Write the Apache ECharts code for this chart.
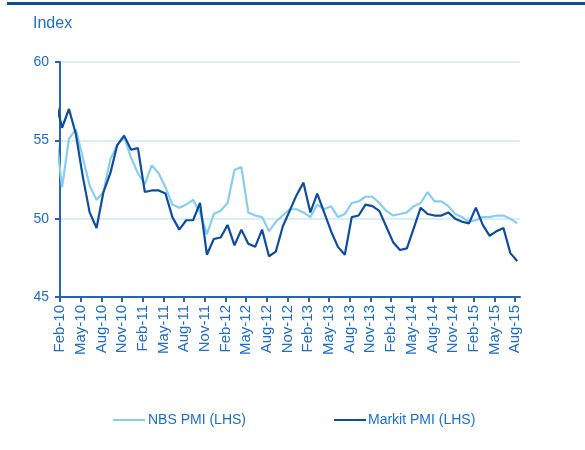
<!DOCTYPE html>
<html>
<head>
<meta charset="utf-8">
<script src="https://cdn.jsdelivr.net/npm/echarts@6/dist/echarts.min.js"></script>
<style>
  html, body { margin: 0; padding: 0; background: #fff; }
  #chart { width: 585px; height: 450px; }
</style>
</head>
<body>
<div id="chart"></div>
<script>
// monthly PMI, Jan-10 .. Aug-15 (Jan-10 sits just left of the axis and gets clipped)
const months = [
  'Jan-10', 'Feb-10', 'Mar-10', 'Apr-10', 'May-10', 'Jun-10', 'Jul-10', 'Aug-10', 'Sep-10', 'Oct-10', 'Nov-10', 'Dec-10',
  'Jan-11', 'Feb-11', 'Mar-11', 'Apr-11', 'May-11', 'Jun-11', 'Jul-11', 'Aug-11', 'Sep-11', 'Oct-11', 'Nov-11', 'Dec-11',
  'Jan-12', 'Feb-12', 'Mar-12', 'Apr-12', 'May-12', 'Jun-12', 'Jul-12', 'Aug-12', 'Sep-12', 'Oct-12', 'Nov-12', 'Dec-12',
  'Jan-13', 'Feb-13', 'Mar-13', 'Apr-13', 'May-13', 'Jun-13', 'Jul-13', 'Aug-13', 'Sep-13', 'Oct-13', 'Nov-13', 'Dec-13',
  'Jan-14', 'Feb-14', 'Mar-14', 'Apr-14', 'May-14', 'Jun-14', 'Jul-14', 'Aug-14', 'Sep-14', 'Oct-14', 'Nov-14', 'Dec-14',
  'Jan-15', 'Feb-15', 'Mar-15', 'Apr-15', 'May-15', 'Jun-15', 'Jul-15', 'Aug-15'
]

const nbsPmi = [
  55.8, 52.0, 55.1, 55.7, 53.9, 52.1, 51.2, 51.7, 53.8, 54.7, 55.2, 53.9,
  52.9, 52.2, 53.4, 52.9, 52.0, 50.9, 50.7, 50.9, 51.2, 50.4, 49.0, 50.3,
  50.5, 51.0, 53.1, 53.3, 50.4, 50.2, 50.1, 49.2, 49.8, 50.2, 50.6, 50.6,
  50.4, 50.1, 50.9, 50.6, 50.8, 50.1, 50.3, 51.0, 51.1, 51.4, 51.4, 51.0,
  50.5, 50.2, 50.3, 50.4, 50.8, 51.0, 51.7, 51.1, 51.1, 50.8, 50.3, 50.1,
  49.8, 49.9, 50.1, 50.1, 50.2, 50.2, 50.0, 49.7
]

const markitPmi = [
  57.6, 55.8, 57.0, 55.4, 52.7, 50.4, 49.4, 51.7, 52.9, 54.7, 55.3, 54.4,
  54.5, 51.7, 51.8, 51.8, 51.6, 50.1, 49.3, 49.9, 49.9, 51.0, 47.7, 48.7,
  48.8, 49.6, 48.3, 49.3, 48.4, 48.2, 49.3, 47.6, 47.9, 49.5, 50.5, 51.5,
  52.3, 50.4, 51.6, 50.4, 49.2, 48.2, 47.7, 50.1, 50.2, 50.9, 50.8, 50.5,
  49.5, 48.5, 48.0, 48.1, 49.4, 50.7, 50.3, 50.2, 50.2, 50.4, 50.0, 49.8,
  49.7, 50.7, 49.6, 48.9, 49.2, 49.4, 47.8, 47.3
]

// x labels every 3rd month starting at Feb-10
const tickLabels = [
  'Feb-10', 'May-10', 'Aug-10', 'Nov-10', 'Feb-11', 'May-11', 'Aug-11', 'Nov-11',
  'Feb-12', 'May-12', 'Aug-12', 'Nov-12', 'Feb-13', 'May-13', 'Aug-13', 'Nov-13',
  'Feb-14', 'May-14', 'Aug-14', 'Nov-14', 'Feb-15', 'May-15', 'Aug-15'
]

const textColor = '#1b6dcc'
const axisColor = '#2a63b5'
const lightBlue = '#86cff0'
const darkBlue = '#0d4c9f'
const font = 'Liberation Sans, Arial, sans-serif'

// Feb-10 sits at 0 on the axis; points are drawn a little right of their tick
const shift = 0.3
const toPoints = arr => arr.map((v, i) => [i - 1 + shift, v])
const tickValues = tickLabels.map((_, i) => i * 3)

const chart = echarts.init(document.getElementById('chart'))

chart.setOption({
  animation: false,
  textStyle: { fontFamily: font },
  graphic: [
    {
      type: 'rect',
      shape: { x: 7, y: 2, width: 578, height: 3 },
      style: { fill: '#0a4f9e' }
    },
    {
      type: 'text',
      left: 33,
      top: 16,
      style: { text: 'Index', fill: textColor, font: '16px ' + font }
    }
  ],
  legend: [
    {
      left: 108,
      top: 408,
      data: ['NBS PMI (LHS)'],
      icon: 'rect',
      itemWidth: 32,
      itemHeight: 2,
      textStyle: { color: textColor, fontSize: 14, fontFamily: font, padding: [0, 0, 0, -2] }
    },
    {
      left: 329,
      top: 408,
      data: ['Markit PMI (LHS)'],
      icon: 'rect',
      itemWidth: 32,
      itemHeight: 2,
      textStyle: { color: textColor, fontSize: 14, fontFamily: font, padding: [0, 0, 0, -3] }
    }
  ],
  grid: {
    left: 60,
    right: 65,
    top: 62,
    bottom: 153
  },
  xAxis: {
    type: 'value',
    min: 0,
    max: 66.7,
    splitLine: { show: false },
    axisLine: { show: true, lineStyle: { color: axisColor, width: 2 } },
    axisTick: {
      show: true,
      length: 5,
      customValues: tickValues,
      lineStyle: { color: axisColor, width: 2 }
    },
    axisLabel: {
      rotate: 90,
      margin: 8,
      color: textColor,
      fontSize: 15,
      fontFamily: font,
      customValues: tickValues,
      formatter: v => tickLabels[Math.round(v / 3)] || ''
    }
  },
  yAxis: {
    type: 'value',
    min: 45,
    max: 60,
    interval: 5,
    axisLine: { show: true, lineStyle: { color: axisColor, width: 2 } },
    axisTick: { show: true, length: 5, lineStyle: { color: axisColor, width: 2 } },
    axisLabel: { color: textColor, fontSize: 14, fontFamily: font, margin: 11 },
    splitLine: { lineStyle: { color: '#c9eaf8', width: 1.5 } }
  },
  series: [
    {
      name: 'NBS PMI (LHS)',
      type: 'line',
      data: toPoints(nbsPmi),
      symbol: 'none',
      color: lightBlue,
      lineStyle: { width: 2.2, color: lightBlue },
      z: 2
    },
    {
      name: 'Markit PMI (LHS)',
      type: 'line',
      data: toPoints(markitPmi),
      symbol: 'none',
      color: darkBlue,
      lineStyle: { width: 2.2, color: darkBlue },
      z: 3
    }
  ]
})
</script>
</body>
</html>
